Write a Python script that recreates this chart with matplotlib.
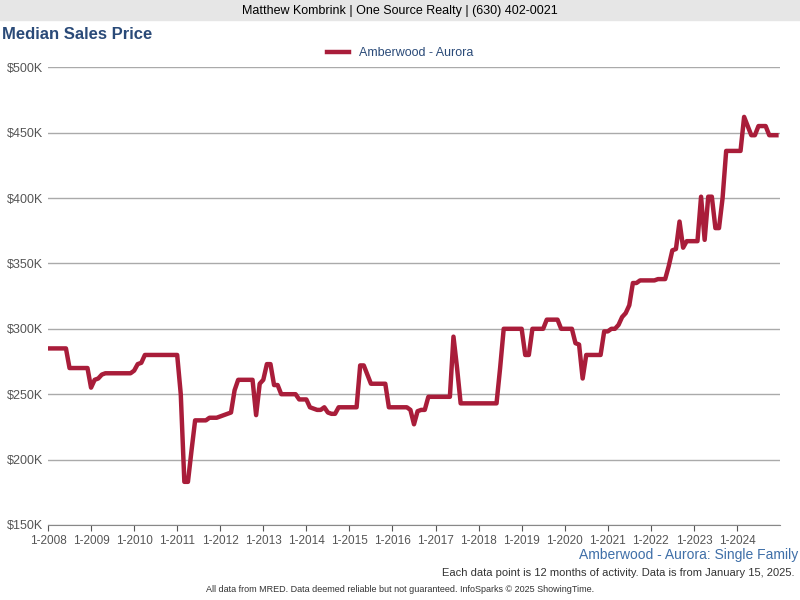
import matplotlib
matplotlib.use("Agg")
import matplotlib.pyplot as plt
import numpy as np

plt.rcParams["font.family"] = "Liberation Sans"

years = list(range(2008, 2025))
# monthly median sales price in $K, one row per year
prices = [
    [285, 285, 285, 285, 285, 285, 270, 270, 270, 270, 270, 270],
    [255, 261, 262, 265, 266, 266, 266, 266, 266, 266, 266, 266],
    [268, 273, 274, 280, 280, 280, 280, 280, 280, 280, 280, 280],
    [280, 250, 183, 183, 207, 230, 230, 230, 230, 232, 232, 232],
    [233, 234, 235, 236, 253, 261, 261, 261, 261, 261, 234, 258],
    [261, 273, 273, 257, 257, 250, 250, 250, 250, 250, 246, 246],
    [246, 240, 239, 238, 238, 240, 236, 235, 235, 240, 240, 240],
    [240, 240, 240, 272, 272, 265, 258, 258, 258, 258, 258, 240],
    [240, 240, 240, 240, 240, 238, 227, 237, 238, 238, 248, 248],
    [248, 248, 248, 248, 248, 294, 270, 243, 243, 243, 243, 243],
    [243, 243, 243, 243, 243, 243, 270, 300, 300, 300, 300, 300],
    [300, 280, 280, 300, 300, 300, 300, 307, 307, 307, 307, 300],
    [300, 300, 300, 289, 288, 262, 280, 280, 280, 280, 280, 298],
    [298, 300, 300, 303, 309, 312, 318, 335, 335, 337, 337, 337],
    [337, 337, 338, 338, 338, 348, 360, 361, 382, 362, 367, 367],
    [367, 367, 401, 368, 401, 401, 377, 377, 400, 436, 436, 436],
    [436, 436, 462, 455, 448, 448, 455, 455, 455, 448, 448, 448],
]
y_ticks = [150, 200, 250, 300, 350, 400, 450, 500]

vals = np.array(prices, dtype=float).ravel()
t = np.arange(len(vals)) / 12.0 + years[0]

fig = plt.figure(figsize=(8, 6), dpi=100)
ax = fig.add_axes([0.06, 0.125, 0.915, 0.763])

ax.plot(t, vals, color="#a91d3a", lw=3.2, solid_joinstyle="round", label="Amberwood - Aurora")
ax.set_xlim(2008, 2025)
ax.set_ylim(150, 500)
ax.set_yticks(y_ticks)
ax.set_yticklabels([f"${v}K" for v in y_ticks])
ax.set_xticks(years)
ax.set_xticklabels([f"1-{y}" for y in years])
ax.grid(axis="y", color="#aaaaaa", lw=1)
ax.set_axisbelow(True)
for s in ["top", "right", "left"]:
    ax.spines[s].set_visible(False)
ax.spines["bottom"].set_color("#888888")
ax.tick_params(axis="y", length=0, labelsize=9, colors="#555555")
ax.tick_params(axis="x", length=4, labelsize=8.5, colors="#555555", direction="out")

# header
fig.patches.append(plt.Rectangle((0, 0.967), 1, 0.033, transform=fig.transFigure,
                                 color="#e6e6e6", zorder=0))
fig.text(0.5, 0.982, "Matthew Kombrink | One Source Realty | (630) 402-0021",
         ha="center", va="center", fontsize=9)
fig.text(0.003, 0.943, "Median Sales Price", ha="left", va="center",
         fontsize=12, fontweight="bold", color="#2a4a78")
fig.legend(loc="center", bbox_to_anchor=(0.5, 0.911), frameon=False, fontsize=9,
           handlelength=1.8, labelcolor="#2a4a78")
fig.text(0.998, 0.075, "Amberwood - Aurora: Single Family", ha="right", va="center",
         fontsize=10, color="#3f6fa8")
fig.text(0.993, 0.045, "Each data point is 12 months of activity. Data is from January 15, 2025.",
         ha="right", va="center", fontsize=8, color="#333333")
fig.text(0.5, 0.017, "All data from MRED. Data deemed reliable but not guaranteed. InfoSparks \u00a9 2025 ShowingTime.",
         ha="center", va="center", fontsize=6.5, color="#333333")

fig.savefig("out.png", dpi=100)
